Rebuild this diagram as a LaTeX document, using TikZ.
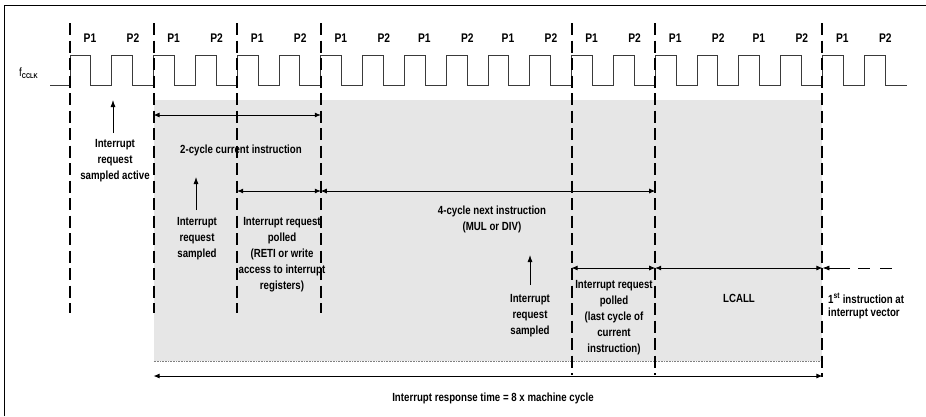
\documentclass[tikz,border=0pt]{standalone}
\usepackage{fontspec}
\setmainfont{Liberation Sans}
\newfontfamily\narrowfont{Liberation Sans}[FakeStretch=0.82]
\usetikzlibrary{arrows.meta}
\definecolor{shadegray}{HTML}{E6E6E6}
\definecolor{clk}{HTML}{3A3A3A}
\begin{document}
\begin{tikzpicture}[x=1pt,y=-1pt,
  lbl/.style={font=\narrowfont\fontsize{11.8}{16}\selectfont\bfseries, align=center, inner sep=0pt},
  plbl/.style={font=\narrowfont\fontsize{12.5}{14}\selectfont\bfseries, inner sep=0pt},
  cyc/.style={line width=2pt, dash pattern=on 12pt off 5.5pt},
  dbl/.style={{Latex[length=6pt,width=5pt]}-{Latex[length=6pt,width=5pt]}, line width=0.8pt},
  up/.style={-{Latex[length=7pt,width=5pt]}, line width=0.8pt},
  frame/.style={line width=1pt}]
\useasboundingbox (0,0) rectangle (926,416);
% frame (top and left)
\draw[frame] (4,416) -- (4,5) -- (926,5);
% shaded region
\fill[shadegray] (153.6,100) rectangle (822.4,361);
\draw[gray, densely dotted, line width=0.6pt] (153.6,361) -- (822.4,361);
% clock
\draw[clk, line width=1pt] (50,85) foreach \k in {0,...,19} { -- ({70+41.8*\k},85) -- ({70+41.8*\k},55) -- ({70+41.8*\k+20.9},55) -- ({70+41.8*\k+20.9},85) } -- (907,85);
\node[anchor=west, inner sep=0pt, font=\narrowfont\fontsize{12}{12}\selectfont] (fclk) at (19,73) {f{\fontsize{7}{7}\selectfont\raisebox{-2.5pt}{\bfseries CCLK}}};
\foreach \k in {0,...,9} {
  \node[plbl] (p1\k) at ({70+83.6*\k+20},38) {P1};
  \node[plbl] (p2\k) at ({70+83.6*\k+63},38) {P2};
}
% cycle boundaries
\foreach \n/\x/\b in {c0/70/313, c1/153.6/313, c2/237.2/313, c3/320.8/313, c6/571.6/375, c7/655.2/375, c9/822.4/377} {
  \coordinate (\n t) at (\x,23);
  \coordinate (\n b) at (\x,\b);
  \draw[cyc] (\n t) -- (\n b);
}
% arrow end points
\coordinate (a1l) at (153.6,115); \coordinate (a1r) at (320.8,115);
\coordinate (a2l) at (237.2,191); \coordinate (a2r) at (320.8,191);
\coordinate (a3l) at (320.8,191); \coordinate (a3r) at (655.2,191);
\coordinate (a4l) at (571.6,268); \coordinate (a4r) at (655.2,268);
\coordinate (a5l) at (655.2,268); \coordinate (a5r) at (822.4,268);
\coordinate (a6l) at (153.6,376); \coordinate (a6r) at (822.4,376);
\coordinate (v0) at (822.4,268); \coordinate (v1) at (850,268);
\coordinate (v2) at (858,268); \coordinate (v3) at (892,268);
\coordinate (s1b) at (113,133); \coordinate (s1t) at (113,100);
\coordinate (s2b) at (196,210); \coordinate (s2t) at (196,177);
\coordinate (s3b) at (530,285); \coordinate (s3t) at (530,255);
\draw[dbl] (a1l) -- (a1r);
\draw[dbl] (a2l) -- (a2r);
\draw[dbl] (a3l) -- (a3r);
\draw[dbl] (a4l) -- (a4r);
\draw[dbl] (a5l) -- (a5r);
\draw[dbl] (a6l) -- (a6r);
\draw[up] (v1) -- (v0);
\draw[line width=0.8pt, dash pattern=on 12pt off 10pt] (v2) -- (v3);
\draw[up] (s1b) -- (s1t);
\draw[up] (s2b) -- (s2t);
\draw[up] (s3b) -- (s3t);
% labels
\node[lbl] (t1) at (115,161) {Interrupt\\request\\sampled active};
\node[lbl] (t2) at (241,150) {2-cycle current instruction};
\node[lbl] (t3) at (197,239) {Interrupt\\request\\sampled};
\node[lbl] (t4) at (282,255) {Interrupt request\\polled\\(RETI or write\\access to interrupt\\registers)};
\node[lbl] (t5) at (492,219) {4-cycle next instruction\\(MUL or DIV)};
\node[lbl] (t6) at (530,316) {Interrupt\\request\\sampled};
\node[lbl] (t7) at (614,318) {Interrupt request\\polled\\(last cycle of\\current\\instruction)};
\node[lbl] (t8) at (739,298) {LCALL};
\node[lbl, align=left, anchor=west, font=\narrowfont\fontsize{11.8}{13}\selectfont\bfseries] (t9) at (828,306) {1\textsuperscript{st} instruction at\\interrupt vector};
\node[lbl] (t10) at (493,398) {Interrupt response time = 8 x machine cycle};
\end{tikzpicture}
\end{document}
